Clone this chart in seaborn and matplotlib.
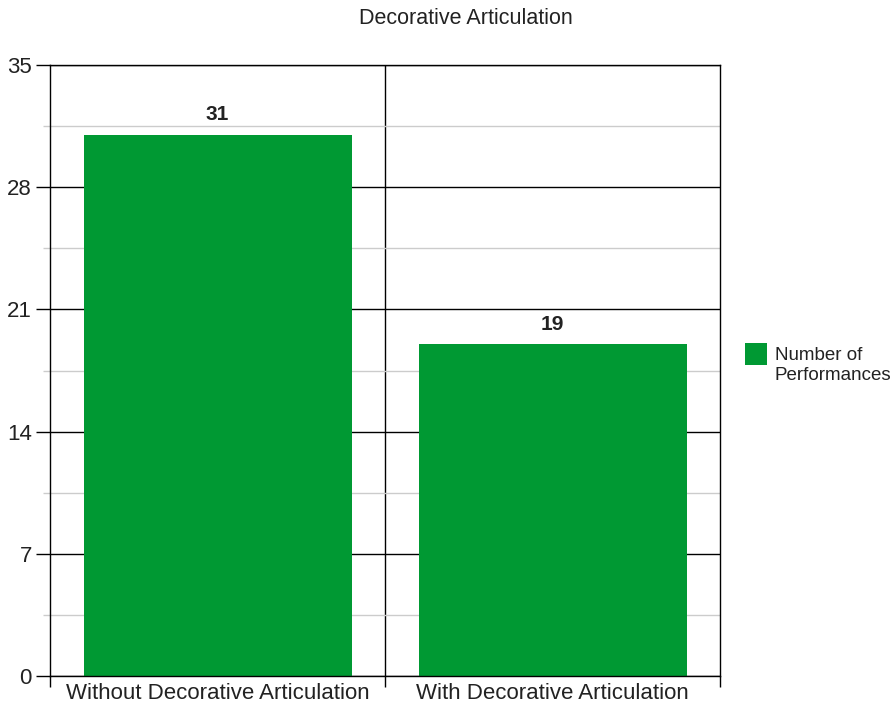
import matplotlib
matplotlib.use("Agg")
import matplotlib.pyplot as plt
import seaborn as sns
import pandas as pd
from matplotlib.ticker import MultipleLocator, FixedLocator
from matplotlib.patches import Rectangle

categories = ["Without Decorative Articulation", "With Decorative Articulation"]
values = [31, 19]
series_name = "Number of\nPerformances"
title = "Decorative Articulation"
yticks = [0, 7, 14, 21, 28, 35]
bar_color = "#009933"

sns.set_theme(style="white")
plt.rcParams['font.family'] = ['Liberation Sans', 'DejaVu Sans']

df = pd.DataFrame({"category": categories, "value": values, "series": [series_name] * len(categories)})

W, H = 895, 704
fig = plt.figure(figsize=(W / 100, H / 100), dpi=100)
ax = fig.add_axes([50 / W, 1 - 676 / H, 670 / W, 611 / H])

sns.barplot(data=df, x="category", y="value", hue="series", palette=[bar_color],
            width=0.8, ax=ax, legend=False, saturation=1, linewidth=0)

ax.set_ylim(0, 35)
ax.set_xlim(-0.5, 1.5)
ax.yaxis.set_major_locator(FixedLocator(yticks))
ax.yaxis.set_minor_locator(MultipleLocator(3.5))
ax.grid(axis="y", which="major", color="black", linewidth=1)
ax.grid(axis="y", which="minor", color="#cccccc", linewidth=1)
ax.set_axisbelow(True)
ax.axvline(0.5, color="black", linewidth=1, zorder=0.5)

ax.tick_params(axis="y", which="major", length=10, width=1, color="black",
               labelsize=16, labelcolor="#222222", left=True, pad=3)
ax.tick_params(axis="y", which="minor", length=5, width=1, color="#cccccc", left=True)
ax.tick_params(axis="x", which="major", length=0, labelsize=16, labelcolor="#222222", pad=5)
ax.xaxis.set_minor_locator(FixedLocator([-0.5, 0.5, 1.5]))
ax.tick_params(axis="x", which="minor", length=8, width=1, color="black", bottom=True)

for s in ax.spines.values():
    s.set_color("black")
    s.set_linewidth(1)

ax.set_xlabel("")
ax.set_ylabel("")

for i, v in enumerate(values):
    ax.text(i, v + 0.6, str(v), ha="center", va="bottom", fontsize=15,
            fontweight="bold", color="#222222")

fig.text(466 / W, 1 - 18 / H, title, ha="center", va="center", fontsize=15.5, color="#222222")

# legend
fig.patches.append(Rectangle((745 / W, 1 - 365 / H), 22 / W, 22 / H,
                             transform=fig.transFigure, facecolor=bar_color,
                             edgecolor="none", figure=fig))
fig.text(775 / W, 1 - 347 / H, series_name, ha="left", va="top", fontsize=13.5,
         color="#222222", linespacing=1.2)

fig.savefig("out.png", dpi=100)
